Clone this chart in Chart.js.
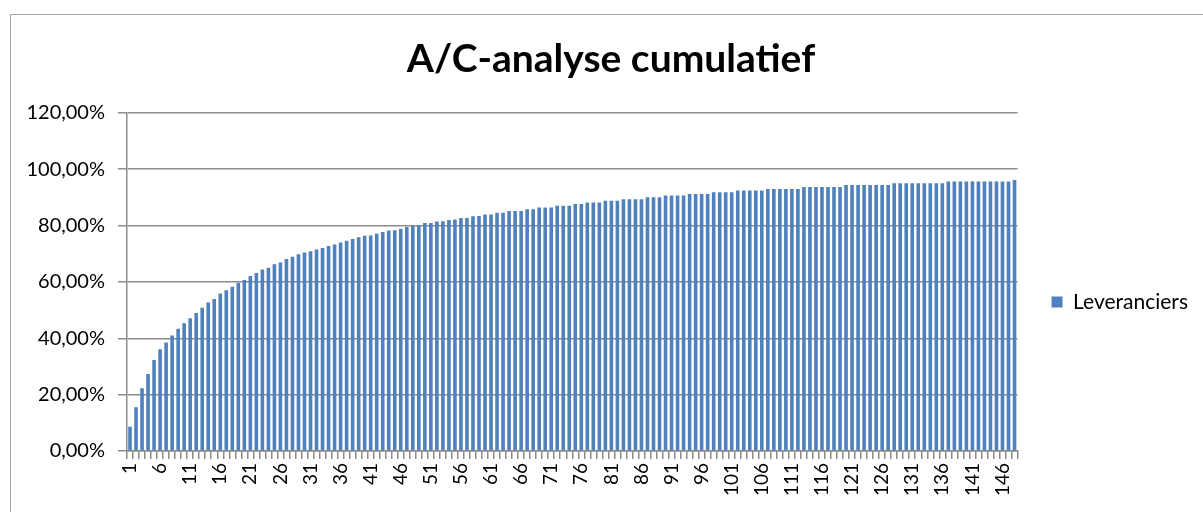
<!DOCTYPE html>
<html lang="nl">
<head>
  <meta charset="UTF-8" />
  <title>A/C-analyse cumulatief</title>
  <script src="https://cdn.jsdelivr.net/npm/chart.js"></script>
  <style>
    body { margin: 0; background: #fff; overflow: hidden; }
    .frame { position: absolute; left: 10px; top: 14px; width: 1300px; height: 600px; border: 1px solid #a6a6a6; }
    .wrap { position: absolute; left: 0; top: 0; width: 1203px; height: 512px; }
  </style>
</head>
<body>
  <div class="frame"></div>
  <div class="wrap"><canvas id="chart" width="1203" height="512"></canvas></div>
  <script>
    // leverancier rang 1..148
    const categories = Array.from({ length: 148 }, (_, i) => String(i + 1));
    // cumulatief aandeel in %
    const cumulatief = [
      8.6, 15.5, 22.3, 27.3, 32.3, 36.1, 38.5, 41.0, 43.4, 45.3,
      47.1, 49.0, 50.8, 52.7, 53.9, 55.9, 57.0, 58.3, 59.7, 60.7,
      62.1, 63.2, 64.4, 65.0, 66.3, 66.9, 68.1, 68.9, 69.8, 70.4,
      70.9, 71.5, 72.0, 72.7, 73.3, 74.0, 74.6, 75.2, 75.8, 76.4,
      76.5, 77.1, 77.7, 78.2, 78.3, 78.9, 79.5, 79.8, 80.1, 80.9,
      80.9, 81.4, 81.5, 82.0, 82.1, 82.7, 82.7, 83.3, 83.4, 83.9,
      83.9, 84.5, 84.5, 85.2, 85.2, 85.2, 85.8, 85.8, 86.4, 86.4,
      86.4, 87.0, 87.0, 87.0, 87.6, 87.6, 88.2, 88.2, 88.2, 88.8,
      88.8, 88.8, 89.3, 89.3, 89.3, 89.3, 90.0, 90.0, 90.0, 90.7,
      90.7, 90.7, 90.7, 91.2, 91.2, 91.2, 91.2, 91.8, 91.8, 91.8,
      91.8, 92.4, 92.4, 92.4, 92.4, 92.4, 93.0, 93.0, 93.0, 93.0,
      93.0, 93.0, 93.7, 93.7, 93.7, 93.7, 93.7, 93.7, 93.7, 94.4,
      94.4, 94.4, 94.4, 94.4, 94.4, 94.4, 94.4, 95.0, 95.0, 95.0,
      95.0, 95.0, 95.0, 95.0, 95.0, 95.0, 95.6, 95.6, 95.6, 95.6,
      95.6, 95.6, 95.6, 95.6, 95.6, 95.6, 95.6, 96.2
    ];
    const yTicks = [0, 20, 40, 60, 80, 100, 120];

    const FONT = 'Lato, "Open Sans", sans-serif';
    const gridColor = '#8c8c8c';

    // legend sits a bit below the middle, like in Excel
    const legendShift = {
      id: 'legendShift',
      afterLayout(chart) {
        if (chart.legend) { chart.legend.top += 46; chart.legend.bottom += 46; }
      }
    };

    new Chart(document.getElementById('chart'), {
      type: 'bar',
      data: {
        labels: categories,
        datasets: [{
          label: 'Leveranciers',
          data: cumulatief,
          backgroundColor: '#4f81bd',
          borderWidth: 0,
          barPercentage: 0.6,
          categoryPercentage: 1.0
        }]
      },
      options: {
        responsive: false,
        animation: false,
        layout: { padding: { left: 24, right: 5, top: 0, bottom: 0 } },
        plugins: {
          title: {
            display: true,
            text: 'A/C-analyse cumulatief',
            color: '#000',
            font: { family: FONT, size: 39, weight: 'bold' },
            padding: { top: 36, bottom: 30 }
          },
          legend: {
            position: 'right',
            labels: {
              boxWidth: 11, boxHeight: 11, padding: 34,
              color: '#000',
              font: { family: FONT, size: 21 }
            }
          },
          tooltip: { enabled: false }
        },
        scales: {
          x: {
            offset: true,
            grid: { drawOnChartArea: false, drawTicks: true, tickLength: 8, color: gridColor, lineWidth: 1.5, offset: true },
            border: { color: gridColor, width: 1.5 },
            ticks: {
              autoSkip: false, minRotation: 90, maxRotation: 90, padding: 4,
              color: '#000', font: { family: FONT, size: 19 },
              callback: (v, i) => (i % 5 === 0 ? categories[i] : '')
            },
            afterFit: s => { s.height = 61; }
          },
          y: {
            min: 0, max: 120,
            afterBuildTicks: s => { s.ticks = yTicks.map(v => ({ value: v })); },
            grid: { color: gridColor, lineWidth: 1.5, tickLength: 9 },
            border: { color: gridColor, width: 1.5 },
            ticks: {
              padding: 13, color: '#000', font: { family: FONT, size: 20 },
              callback: v => v.toFixed(2).replace('.', ',') + '%'
            },
            afterFit: s => { s.width = 103; }
          }
        }
      },
      plugins: [legendShift]
    });
  </script>
</body>
</html>
